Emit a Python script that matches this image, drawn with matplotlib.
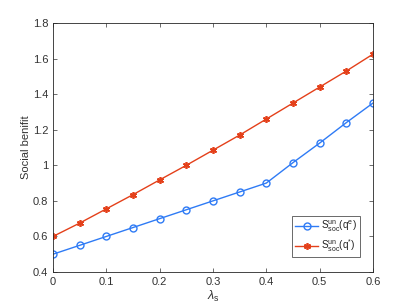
import matplotlib
matplotlib.use("Agg")
import matplotlib.pyplot as plt

lam = [0, 0.05, 0.1, 0.15, 0.2, 0.25, 0.3, 0.35, 0.4, 0.45, 0.5, 0.55, 0.6]
s_e = [0.5, 0.55, 0.6, 0.65, 0.7, 0.75, 0.8, 0.85, 0.9, 1.015, 1.125, 1.24, 1.35]
s_star = [0.6, 0.675, 0.755, 0.835, 0.918, 1.0, 1.085, 1.17, 1.26, 1.35, 1.44, 1.53, 1.625]
xticks = [0, 0.1, 0.2, 0.3, 0.4, 0.5, 0.6]
yticks = [0.4, 0.6, 0.8, 1.0, 1.2, 1.4, 1.6, 1.8]
yticklabels = ["0.4", "0.6", "0.8", "1", "1.2", "1.4", "1.6", "1.8"]

plt.rcParams['font.family'] = ['Liberation Sans', 'DejaVu Sans']
plt.rcParams['mathtext.fontset'] = 'custom'
plt.rcParams['mathtext.rm'] = 'Liberation Sans'
plt.rcParams['mathtext.it'] = 'Liberation Sans:italic'

fig = plt.figure(figsize=(4.09, 3.06), dpi=100)
ax = fig.add_axes([53/409, 34/306, 320/409, 249/306])

blue = '#2f7bf5'
red = '#e4401a'
tc = '#333333'
ax.plot(lam, s_e, color=blue, marker='o', markersize=5, markerfacecolor='none',
        markeredgewidth=1.0, linewidth=1.0, label=r'S$_{\rm soc}^{\rm un}$(q$^{\rm e}$)')
ax.plot(lam, s_star, color=red, marker=(6, 2, 0), markersize=5,
        markeredgewidth=1.2, linewidth=1.0, label=r'S$_{\rm soc}^{\rm un}$(q$^{*}$)')

ax.set_xlim(0, 0.6)
ax.set_ylim(0.4, 1.8)
ax.set_xticks(xticks)
ax.set_xticklabels([f"{t:g}" for t in xticks])
ax.set_yticks(yticks)
ax.set_yticklabels(yticklabels)
ax.tick_params(direction='in', top=True, right=True, labelsize=8, colors=tc,
               length=3, width=0.5)
for sp in ax.spines.values():
    sp.set_color('#262626')
    sp.set_linewidth(0.6)
ax.set_xlabel(r'$\lambda_{\rm s}$', fontsize=9, color=tc)
ax.set_ylabel('Social benifit', fontsize=8, color=tc)
ax.yaxis.set_label_coords(-0.069, 0.5)
ax.xaxis.set_label_coords(0.5, -0.068)

leg = ax.legend(loc='lower right', fontsize=7.2, frameon=True, fancybox=False,
                edgecolor='#262626', borderpad=0.3, handlelength=2.3,
                handletextpad=0.3, labelspacing=0.3, bbox_to_anchor=(0.975, 0.04))
leg.get_frame().set_linewidth(0.6)
for t in leg.get_texts():
    t.set_color('#222222')

fig.savefig('out.png', dpi=100)
